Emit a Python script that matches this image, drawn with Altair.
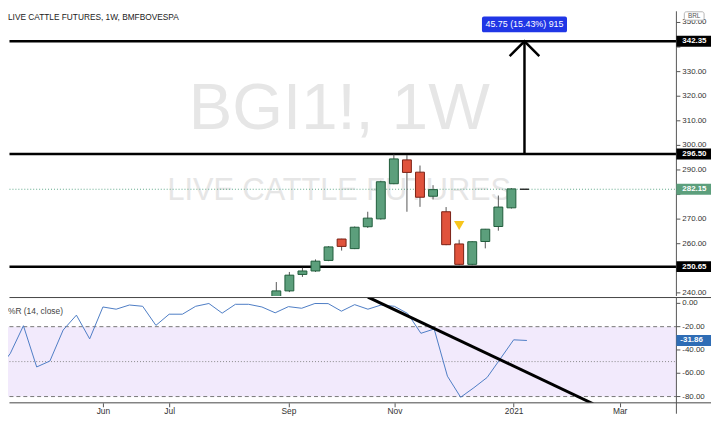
import altair as alt
import pandas as pd
from datetime import datetime, timezone

FONT = "Liberation Sans"

# ---------------- data ----------------
candle_dates = ["2020-08-31", "2020-09-07", "2020-09-14", "2020-09-21", "2020-09-28",
                "2020-10-05", "2020-10-12", "2020-10-19", "2020-10-26", "2020-11-02",
                "2020-11-09", "2020-11-16", "2020-11-23", "2020-11-30", "2020-12-07",
                "2020-12-14", "2020-12-21", "2020-12-28", "2021-01-04", "2021-01-11"]
opens  = [237.0, 240.8, 247.5, 248.9, 253.2, 261.9, 258.0, 266.9, 270.1, 284.4,
          294.1, 289.1, 279.3, 273.0, 259.9, 251.6, 260.9, 267.0, 274.6, 282.15]
highs  = [244.4, 248.5, 250.2, 253.6, 259.0, 262.0, 267.0, 273.0, 285.6, 296.3,
          296.1, 291.8, 283.8, 274.9, 261.6, 261.0, 266.0, 279.6, 282.6, 282.15]
lows   = [235.5, 240.3, 246.5, 248.5, 252.9, 257.2, 257.8, 266.4, 269.8, 284.2,
          273.0, 275.0, 278.0, 259.4, 251.2, 251.2, 258.1, 265.3, 274.3, 282.15]
closes = [240.8, 247.2, 248.9, 252.9, 258.7, 258.9, 266.7, 270.4, 285.2, 294.5,
          289.0, 278.9, 282.0, 259.6, 251.6, 260.8, 265.9, 274.9, 282.3, 282.15]

wr_start = "2020-04-06"
wr_values = [-57.7, -43.2, -19.2, -54.6, -49.5, -22.9, -10.1, -30.5, -3.1, -5.0,
             -1.4, -2.5, -18.9, -9.3, -9.3, -2.5, -0.1, -8.4, -0.8, -0.8,
             -3.1, -8.1, -2.8, -4.2, -0.1, -0.2, -6.7, -1.1, -5.0, -1.4,
             -2.5, -8.7, -25.7, -22.0, -62.5, -80.6, -72.4, -63.6, -47.5, -31.3, -31.86]
wr_dates = pd.date_range(wr_start, periods=len(wr_values), freq="7D").strftime("%Y-%m-%d").tolist()

levels = [342.35, 296.50, 250.65]
last_price = 282.15
last_wr = -31.86
price_ticks = list(range(240, 351, 10))
wr_ticks = [0, -20, -40, -60, -80]
month_ticks = ["2020-06-01", "2020-07-06", "2020-09-07", "2020-11-02", "2021-01-04", "2021-03-01"]

signal_date = ["2020-12-07"]
signal_price = [267.4]
arrow_date = ["2021-01-11"]
measure_text = ["45.75 (15.43%) 915"]
measure_at = [349.2]
trend_dates = ["2020-10-19", "2021-02-15"]
trend_values = [5.4, -86.2]

# ---------------- layout ----------------
W = 704
TOP_H = 288
BOT_H = 107
AX_X = 676
RIGHT = 711
PX_PER_UNIT = TOP_H / (354.55 - 238.7)

def ms(d):
    return datetime.strptime(d, "%Y-%m-%d").replace(tzinfo=timezone.utc).timestamp() * 1000

WEEK = 7 * 86400000
t_last = ms("2021-01-11")
xs = alt.Scale(type="utc", domain=[t_last - 39.164 * WEEK, t_last + 13.373 * WEEK])
ys_top = alt.Scale(domain=[238.7, 354.55], nice=False, zero=False)
ys_bot = alt.Scale(domain=[-85.4, 5.43], nice=False, zero=False)

x_top = alt.X("date:T", scale=xs, axis=None)
x_bot = alt.X("date:T", scale=xs, axis=alt.Axis(
    values=[ms(d) for d in month_ticks],
    labelExpr="utcmonth(datum.value) == 0 ? utcFormat(datum.value, '%Y') : utcFormat(datum.value, '%b')",
    domain=False, grid=False, ticks=True, tickColor="#555", tickSize=4,
    labelFontSize=8.5, labelColor="#333", labelFont=FONT, labelPadding=0,
    labelFlush=False, labelOverlap=False, title=None))

def up_color(o, c):
    if c > o:
        return "#5c9f7c", "#1f5c3b"
    if c < o:
        return "#e0533c", "#7a2014"
    return "#222222", "#222222"

candles = pd.DataFrame({"date": candle_dates, "open": opens, "high": highs,
                        "low": lows, "close": closes})
candles["fill"] = [up_color(o, c)[0] for o, c in zip(opens, closes)]
candles["stroke"] = [up_color(o, c)[1] for o, c in zip(opens, closes)]

wr = pd.DataFrame({"date": wr_dates, "wr": wr_values})

L0 = 1.5  # keep strokes inside the view so nothing pushes the layout

# ---------------- top panel ----------------
wm1 = alt.Chart(pd.DataFrame({"t": ["BGI1!, 1W"]})).mark_text(
    font=FONT, fontSize=66, color="#e6e6e6", align="center", baseline="middle"
).encode(text="t:N", x=alt.value(335), y=alt.value(99))
wm2 = alt.Chart(pd.DataFrame({"t": ["LIVE CATTLE FUTURES"]})).mark_text(
    font=FONT, fontSize=31, color="#e6e6e6", align="center", baseline="middle"
).encode(text="t:N", x=alt.value(335), y=alt.value(182))
title_t = alt.Chart(pd.DataFrame({"t": ["LIVE CATTLE FUTURES, 1W, BMFBOVESPA"]})).mark_text(
    font=FONT, fontSize=8.4, color="#222", align="left", baseline="middle"
).encode(text="t:N", x=alt.value(0), y=alt.value(6))

brl_box = alt.Chart(pd.DataFrame({"t": ["BRL"]})).mark_rect(
    fill="white", stroke="#b5b5b5", strokeWidth=1, cornerRadius=2
).encode(x=alt.value(684), x2=alt.value(704), y=alt.value(0.5), y2=alt.value(9))
brl_txt = alt.Chart(pd.DataFrame({"t": ["BRL"]})).mark_text(
    font=FONT, fontSize=6.5, color="#555", align="center", baseline="middle"
).encode(text="t:N", x=alt.value(694), y=alt.value(4.5))

last_line = alt.Chart(pd.DataFrame({"price": [last_price]})).mark_rule(
    strokeDash=[1, 2], color="#5fa98a", strokeWidth=1
).encode(y=alt.Y("price:Q", scale=ys_top, axis=None), x=alt.value(L0), x2=alt.value(AX_X))

level_lines = alt.Chart(pd.DataFrame({"price": levels})).mark_rule(
    color="black", strokeWidth=2.5
).encode(y=alt.Y("price:Q", scale=ys_top, axis=None), x=alt.value(L0), x2=alt.value(AX_X))

wicks = alt.Chart(candles).mark_rule(color="#555", strokeWidth=1, clip=True).encode(
    x=x_top, y=alt.Y("low:Q", scale=ys_top, axis=None), y2="high:Q")
bodies = alt.Chart(candles).mark_bar(size=9, strokeWidth=1, clip=True).encode(
    x=x_top, y=alt.Y("open:Q", scale=ys_top, axis=None), y2="close:Q",
    fill=alt.Fill("fill:N", scale=None), stroke=alt.Stroke("stroke:N", scale=None))

signal = alt.Chart(pd.DataFrame({"date": signal_date, "price": signal_price})).mark_point(
    shape="triangle-down", filled=True, size=110, color="#f7c51c", opacity=1
).encode(x=x_top, y=alt.Y("price:Q", scale=ys_top, axis=None))

arrow_df = pd.DataFrame({"date": arrow_date, "from": [levels[1]], "to": [levels[0]],
                         "lab": measure_text, "at": measure_at})
arrow = alt.Chart(arrow_df).mark_rule(color="black", strokeWidth=2.5).encode(
    x=x_top, y=alt.Y("from:Q", scale=ys_top, axis=None), y2="to:Q")
arrow_head = alt.Chart(arrow_df).mark_point(
    shape="M-1,1L0,0L1,1", filled=False, size=900, strokeWidth=2.5, color="black", opacity=1
).encode(x=x_top, y=alt.Y("to:Q", scale=ys_top, axis=None))
measure_box = alt.Chart(arrow_df).mark_rect(
    color="#2036e6", cornerRadius=2, xOffset=-43, x2Offset=43, yOffset=-8, y2Offset=8
).encode(x=x_top, x2="date:T", y=alt.Y("at:Q", scale=ys_top, axis=None), y2="at:Q")
measure_txt = alt.Chart(arrow_df).mark_text(
    font=FONT, fontSize=9, color="white", align="center", baseline="middle"
).encode(x=x_top, y=alt.Y("at:Q", scale=ys_top, axis=None), text="lab:N")

axis_line_top = alt.Chart(pd.DataFrame({"v": [0]})).mark_rule(color="#555", strokeWidth=1).encode(
    x=alt.value(AX_X), y=alt.value(0), y2=alt.value(TOP_H))

box_prices = levels + [last_price]
pt_df = pd.DataFrame({"price": price_ticks, "label": [f"{v:.2f}" for v in price_ticks]})
# tick labels that sit under a price box are covered, as on the original axis
pt_vis = pt_df[[min(abs(p - b) for b in box_prices) * PX_PER_UNIT > 8 for p in price_ticks]]
p_ticks = alt.Chart(pt_df).mark_rule(color="#555").encode(
    y=alt.Y("price:Q", scale=ys_top, axis=None), x=alt.value(AX_X), x2=alt.value(AX_X + 4))
p_labels = alt.Chart(pt_vis).mark_text(
    font=FONT, fontSize=8, color="#333", align="left", baseline="middle"
).encode(y=alt.Y("price:Q", scale=ys_top, axis=None), x=alt.value(AX_X + 6), text="label:N")

box_df = pd.DataFrame({"price": box_prices,
                       "label": [f"{v:.2f}" for v in box_prices],
                       "bg": ["#000000", "#000000", "#000000", "#5c9f7c"]})
p_boxes = alt.Chart(box_df).mark_rect(yOffset=-5.5, y2Offset=5.5).encode(
    y=alt.Y("price:Q", scale=ys_top, axis=None), y2="price:Q",
    x=alt.value(AX_X), x2=alt.value(RIGHT), color=alt.Color("bg:N", scale=None))
p_box_txt = alt.Chart(box_df).mark_text(
    font=FONT, fontSize=8, fontWeight="bold", color="white", align="left", baseline="middle"
).encode(y=alt.Y("price:Q", scale=ys_top, axis=None), x=alt.value(AX_X + 6), text="label:N")

top = alt.layer(
    wm1, wm2, title_t, last_line, level_lines, wicks, bodies, signal,
    arrow, arrow_head, measure_box, measure_txt,
    axis_line_top, p_ticks, p_labels, p_boxes, p_box_txt, brl_box, brl_txt
).properties(width=W, height=TOP_H)

# ---------------- bottom panel ----------------
band = alt.Chart(pd.DataFrame({"a": [-20], "b": [-80]})).mark_rect(color="#f2eafc").encode(
    y=alt.Y("a:Q", scale=ys_bot, axis=None), y2="b:Q", x=alt.value(0), x2=alt.value(AX_X))
dashes = alt.Chart(pd.DataFrame({"v": [-20, -80]})).mark_rule(
    strokeDash=[4, 3], color="#777", strokeWidth=1
).encode(y=alt.Y("v:Q", scale=ys_bot, axis=None), x=alt.value(L0), x2=alt.value(AX_X))
mid = alt.Chart(pd.DataFrame({"v": [-50]})).mark_rule(
    strokeDash=[1, 2], color="#888", strokeWidth=1
).encode(y=alt.Y("v:Q", scale=ys_bot, axis=None), x=alt.value(L0), x2=alt.value(AX_X))

wr_line = alt.Chart(wr).mark_line(color="#4d7cc4", strokeWidth=1, clip=True).encode(
    x=x_bot, y=alt.Y("wr:Q", scale=ys_bot, axis=None))
trend = alt.Chart(pd.DataFrame({"date": trend_dates, "wr": trend_values})).mark_line(
    color="black", strokeWidth=3, clip=True
).encode(x=x_bot, y=alt.Y("wr:Q", scale=ys_bot, axis=None))

wr_title = alt.Chart(pd.DataFrame({"t": ["%R (14, close)"]})).mark_text(
    font=FONT, fontSize=8.5, color="#444", align="left", baseline="middle"
).encode(text="t:N", x=alt.value(0), y=alt.value(14))

sep = alt.Chart(pd.DataFrame({"v": [0]})).mark_rule(color="#444", strokeWidth=1).encode(
    y=alt.value(0.5), x=alt.value(L0), x2=alt.value(RIGHT))
x_line = alt.Chart(pd.DataFrame({"v": [0]})).mark_rule(color="#444", strokeWidth=1).encode(
    y=alt.value(BOT_H), x=alt.value(L0), x2=alt.value(RIGHT))
axis_line_bot = alt.Chart(pd.DataFrame({"v": [0]})).mark_rule(color="#555", strokeWidth=1).encode(
    x=alt.value(AX_X), y=alt.value(0.5), y2=alt.value(118))

wt_df = pd.DataFrame({"v": wr_ticks, "label": [f"{v:.2f}" for v in wr_ticks]})
w_ticks = alt.Chart(wt_df).mark_rule(color="#555").encode(
    y=alt.Y("v:Q", scale=ys_bot, axis=None), x=alt.value(AX_X), x2=alt.value(AX_X + 4))
w_labels = alt.Chart(wt_df).mark_text(
    font=FONT, fontSize=8, color="#333", align="left", baseline="middle"
).encode(y=alt.Y("v:Q", scale=ys_bot, axis=None), x=alt.value(AX_X + 6), text="label:N")

wb_df = pd.DataFrame({"v": [last_wr], "label": [f"{last_wr:.2f}"]})
w_box = alt.Chart(wb_df).mark_rect(color="#2f6db5", yOffset=-5.5, y2Offset=5.5).encode(
    y=alt.Y("v:Q", scale=ys_bot, axis=None), y2="v:Q", x=alt.value(AX_X), x2=alt.value(RIGHT))
w_box_txt = alt.Chart(wb_df).mark_text(
    font=FONT, fontSize=8, fontWeight="bold", color="white", align="left", baseline="middle"
).encode(y=alt.Y("v:Q", scale=ys_bot, axis=None), x=alt.value(AX_X + 4), text="label:N")

bottom = alt.layer(
    band, dashes, mid, wr_line, trend, wr_title, sep, x_line, axis_line_bot,
    w_ticks, w_labels, w_box, w_box_txt
).properties(width=W, height=BOT_H)

chart = alt.vconcat(top, bottom, spacing=0).properties(
    padding=0, background="white"
).configure_view(stroke=None)

chart.save("out.html", embed_options={"renderer": "svg", "actions": False})
